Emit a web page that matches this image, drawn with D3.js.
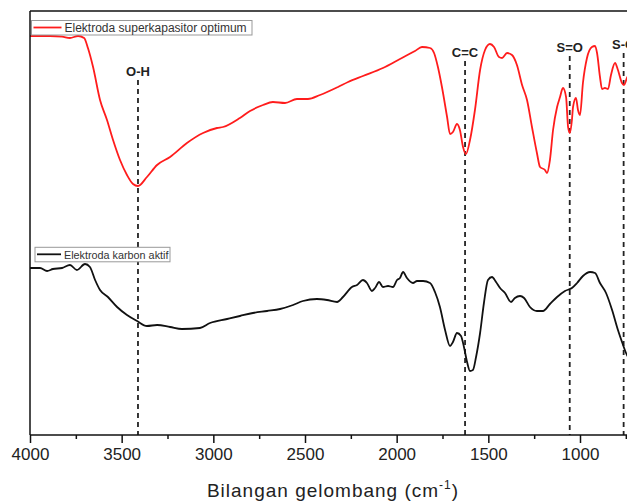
<!DOCTYPE html>
<html>
<head>
<meta charset="utf-8">
<script src="https://cdn.jsdelivr.net/npm/d3@7/dist/d3.min.js"></script>
<style>
  body { margin: 0; background: #fff; }
  svg { display: block; font-family: "Liberation Sans", Arial, sans-serif; }
</style>
</head>
<body>
<div id="chart"></div>
<script>
// FTIR spectra, transmittance in arbitrary units
const redWavenumber = [4000, 3891, 3825, 3782, 3738, 3705, 3684, 3656, 3618, 3580, 3547, 3509, 3471, 3438, 3411,
  3362, 3307, 3236, 3144, 3056, 2980, 2947, 2855, 2800, 2729, 2675, 2609, 2544, 2484, 2418, 2320, 2265, 2184,
  2075, 1982, 1900, 1862, 1818, 1796, 1775, 1753, 1725, 1709, 1693, 1671, 1655, 1638, 1622, 1600, 1573, 1545,
  1518, 1491, 1469, 1442, 1425, 1398, 1371, 1344, 1316, 1289, 1262, 1235, 1218, 1191, 1180, 1164, 1147, 1125,
  1109, 1093, 1076, 1065, 1055, 1044, 1038, 1022, 1011, 1000, 984, 962, 935, 918, 907, 891, 880, 864, 847, 831,
  809, 793, 771, 760, 744, 727];
const redT = [99.75, 99.75, 99.6, 99.25, 99.75, 99.25, 96.75, 92, 83.75, 78.75, 73.75, 68.75, 65, 62.75, 62.25,
  64.5, 67.5, 69.5, 73, 75.5, 76.75, 77, 79.25, 81, 82.5, 83.25, 83, 84, 84, 85, 87, 88.25, 89.75,
  91.75, 94, 96, 97, 96.75, 95.5, 92, 87, 79.5, 75.25, 75.75, 77.75, 76.25, 72, 70.25, 73.75, 81.25, 91.25,
  96.25, 97.75, 97, 94.5, 94.25, 95.5, 95, 92.5, 87.5, 83.75, 77, 70.5, 67, 66.25, 65.5, 68.75, 76.25, 82,
  84.5, 86.75, 84.5, 77, 75.5, 78.75, 82, 84.25, 81.25, 80, 88, 94.25, 97, 97.25, 95.5, 89.5, 86.5, 86.75, 86.5, 90,
  93, 91.25, 88, 87.5, 89.25, 90.75];

const blackWavenumber = [4000, 3945, 3907, 3875, 3825, 3782, 3744, 3700, 3673, 3645, 3618, 3575, 3525, 3471, 3416,
  3362, 3307, 3236, 3171, 3073, 3018, 2925, 2855, 2784, 2707, 2636, 2565, 2511, 2435, 2380, 2325, 2293, 2244,
  2216, 2184, 2162, 2135, 2118, 2096, 2075, 2047, 2020, 1998, 1982, 1965, 1944, 1911, 1889, 1856, 1818, 1791,
  1764, 1736, 1709, 1693, 1671, 1649, 1633, 1616, 1600, 1584, 1567, 1545, 1524, 1502, 1480, 1458, 1436, 1409,
  1376, 1355, 1327, 1305, 1273, 1235, 1202, 1164, 1125, 1082, 1044, 1016, 984, 945, 918, 891, 858, 825, 793,
  765, 749, 727];
const blackT = [41.75, 41.75, 41, 41.5, 41.75, 42.5, 41.25, 42.75, 42, 38.75, 36.25, 34.5, 32, 30, 28.5,
  27.25, 27.5, 27, 26.5, 26.75, 28, 29, 29.75, 30.5, 31, 31.5, 32.5, 33.5, 34, 33.75, 33.25, 34.5, 37,
  37.5, 38.75, 38, 36, 36.75, 38.25, 37, 37.25, 37, 38.75, 39.25, 40.75, 39.25, 38, 38.5, 38.5, 38, 35.75,
  32, 26.25, 22.25, 23.25, 25.5, 24.75, 22, 18.25, 16, 16.25, 19.5, 25.5, 33, 38.75, 39.5, 38.25, 36.75, 35.5,
  33.25, 34.25, 34.75, 34.25, 32, 31, 31, 32.75, 34.5, 36, 36.75, 38, 39.75, 40.75, 40.5, 38, 35.5, 31.25, 26.25,
  22.5, 20.5, 18.75];

// band assignments
const peakNames = ["O-H", "C=C", "S=O", "S-O"];
const peakWavenumber = [3411, 1627, 1056, 762];
const peakLabelLevel = [89.75, 94.5, 95.75, 96.5];

const majorTicks = [4000, 3500, 3000, 2500, 2000, 1500, 1000];
const minorTicks = [3750, 3250, 2750, 2250, 1750, 1250, 750];

const seriesNames = ["Elektroda superkapasitor optimum", "Elektroda karbon aktif"];

const width = 627, height = 503;
const plotLeft = 30, plotTop = 11, plotBottom = 435;

const x = d3.scaleLinear().domain([4000, 650]).range([plotLeft, plotLeft + 3350 * 550 / 3000]);
const y = d3.scaleLinear().domain([0, 106]).range([plotBottom, plotTop]);

const svg = d3.select("#chart").append("svg")
  .attr("width", width).attr("height", height);

svg.append("defs").append("clipPath").attr("id", "plot-clip")
  .append("rect").attr("x", plotLeft).attr("y", plotTop)
  .attr("width", x.range()[1] - plotLeft).attr("height", plotBottom - plotTop);

// dashed band markers
const peaks = svg.append("g");
peakNames.forEach((name, i) => {
  const px = x(peakWavenumber[i]);
  const by = y(peakLabelLevel[i]);
  peaks.append("line")
    .attr("x1", px).attr("x2", px)
    .attr("y1", by + 4).attr("y2", plotBottom)
    .attr("stroke", "#222").attr("stroke-width", 1.8)
    .attr("stroke-dasharray", "5,4");
  peaks.append("text")
    .attr("x", px).attr("y", by)
    .attr("text-anchor", "middle")
    .attr("font-size", "13px").attr("font-weight", "bold")
    .attr("fill", "#222")
    .text(name);
});

const line = d3.line()
  .x(d => x(d[0]))
  .y(d => y(d[1]))
  .curve(d3.curveMonotoneX);

const gLines = svg.append("g").attr("clip-path", "url(#plot-clip)");
gLines.append("path")
  .datum(redWavenumber.map((w, i) => [w, redT[i]]))
  .attr("d", line)
  .attr("fill", "none").attr("stroke", "#ff1c1c").attr("stroke-width", 1.8);
gLines.append("path")
  .datum(blackWavenumber.map((w, i) => [w, blackT[i]]))
  .attr("d", line)
  .attr("fill", "none").attr("stroke", "#111").attr("stroke-width", 1.8);

// frame
svg.append("line").attr("x1", plotLeft).attr("x2", width).attr("y1", plotTop).attr("y2", plotTop)
  .attr("stroke", "#111").attr("stroke-width", 1.5);
svg.append("line").attr("x1", plotLeft).attr("x2", plotLeft).attr("y1", plotTop).attr("y2", plotBottom)
  .attr("stroke", "#111").attr("stroke-width", 1.5);

// x axis
const axisG = svg.append("g").attr("transform", `translate(0,${plotBottom})`);
axisG.call(d3.axisBottom(x).tickValues(majorTicks).tickSize(8).tickPadding(5).tickFormat(d3.format("d")));
axisG.select(".domain").remove();
axisG.append("line").attr("x1", plotLeft).attr("x2", width).attr("y1", 0).attr("y2", 0)
  .attr("stroke", "#111").attr("stroke-width", 1.5);
axisG.selectAll(".tick line").attr("stroke", "#111").attr("stroke-width", 1.5);
axisG.selectAll(".tick text")
  .attr("font-size", "17px").attr("fill", "#222")
  .attr("font-family", "'Liberation Sans', Arial, sans-serif");

const minorG = svg.append("g").attr("transform", `translate(0,${plotBottom})`);
minorG.call(d3.axisBottom(x).tickValues(minorTicks).tickSize(4).tickFormat(""));
minorG.select(".domain").remove();
minorG.selectAll(".tick line").attr("stroke", "#111").attr("stroke-width", 1.5);

// axis title
const title = svg.append("text")
  .attr("x", 333).attr("y", 497)
  .attr("text-anchor", "middle")
  .attr("font-size", "19px").attr("fill", "#222")
  .attr("letter-spacing", "1px");
title.append("tspan").text("Bilangan gelombang (cm");
title.append("tspan").attr("font-size", "12px").attr("dy", -8).text("-1");
title.append("tspan").attr("dy", 8).text(")");

// legends
function legend(bx, by, bw, colour, label, size, lineLen) {
  const g = svg.append("g").attr("transform", `translate(${bx},${by})`);
  g.append("rect").attr("width", bw).attr("height", 14.5)
    .attr("fill", "#fff").attr("stroke", "#999").attr("stroke-width", 1);
  g.append("line").attr("x1", 2).attr("x2", 2 + lineLen).attr("y1", 7).attr("y2", 7)
    .attr("stroke", colour).attr("stroke-width", 1.8);
  g.append("text").attr("x", lineLen + 5).attr("y", 11.3)
    .attr("font-size", size).attr("fill", "#333").text(label);
}
legend(31.5, 20.5, 220.5, "#ff1c1c", seriesNames[0], "12px", 28);
legend(35, 247.3, 135, "#111", seriesNames[1], "10.8px", 24);
</script>
</body>
</html>
